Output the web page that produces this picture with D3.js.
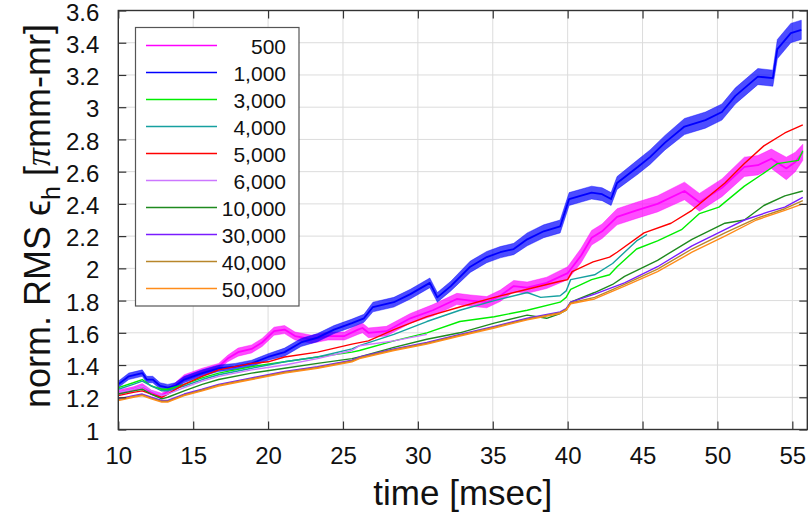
<!DOCTYPE html>
<html>
<head>
<meta charset="utf-8">
<script src="https://cdn.jsdelivr.net/npm/d3@7"></script>
<style>
  html, body { margin: 0; padding: 0; background: #fff; }
  svg { display: block; font-family: "Liberation Sans", Arial, Helvetica, sans-serif; }
</style>
</head>
<body>
<svg id="chart" width="809" height="520"></svg>
<script>
// ---- data: [time (msec), value, noise half-width] ----
const legendLabels = ["500", "1,000", "3,000", "4,000", "5,000", "6,000", "10,000", "30,000", "40,000", "50,000"];
const seriesColors = ["#ff00ff", "#0000ff", "#00ee00", "#16a0a0", "#ff0000", "#cc77ff", "#1f8a1f", "#7a1cff", "#b8862b", "#ff8c1a"];

const s500 = [[10,1.23,.015],[11,1.25,.015],[11.6,1.27,.015],[12.2,1.23,.015],[12.9,1.21,.015],[13.8,1.27,.02],[14.4,1.32,.02],[15.6,1.36,.02],[16.7,1.39,.02],[17.3,1.44,.02],[18,1.48,.025],[18.9,1.50,.025],[19.6,1.54,.025],[20.4,1.61,.025],[21.1,1.62,.025],[21.8,1.58,.025],[22.9,1.56,.025],[24,1.58,.025],[25.1,1.58,.025],[26,1.62,.03],[26.3,1.63,.03],[26.7,1.60,.03],[27.9,1.61,.03],[29.5,1.69,.03],[31,1.74,.035],[32.6,1.81,.035],[33.5,1.80,.035],[34.6,1.79,.035],[35.5,1.83,.035],[36.4,1.89,.035],[37.3,1.88,.035],[38.6,1.91,.035],[40,1.97,.04],[40.9,2.08,.045],[41.6,2.19,.045],[42.3,2.23,.045],[43.3,2.32,.05],[44.6,2.36,.05],[46,2.40,.05],[47.8,2.48,.055],[48.8,2.41,.055],[50.3,2.50,.055],[51.8,2.63,.06],[52.7,2.64,.06],[53.6,2.68,.06],[54.6,2.62,.07],[55.2,2.66,.06],[55.7,2.72,.05]];
const s1000 = [[10,1.28,.02],[10.7,1.33,.02],[11.6,1.35,.02],[11.9,1.31,.02],[12.3,1.31,.02],[12.8,1.27,.02],[13.3,1.26,.02],[13.8,1.27,.02],[14.4,1.31,.02],[15,1.33,.02],[15.6,1.35,.02],[16.7,1.38,.02],[17.8,1.39,.02],[18.9,1.41,.02],[20,1.45,.02],[21.1,1.48,.025],[22.2,1.54,.025],[23.3,1.57,.025],[24.4,1.62,.025],[25.6,1.66,.025],[26.4,1.69,.025],[27,1.76,.03],[28.4,1.79,.03],[29.5,1.84,.03],[30.8,1.91,.03],[31.3,1.82,.03],[32.2,1.89,.03],[33.5,2.01,.035],[34.6,2.07,.035],[35.5,2.10,.035],[36.4,2.12,.035],[37.3,2.18,.04],[38.4,2.23,.04],[39.5,2.26,.04],[40.1,2.43,.04],[41.6,2.47,.04],[42.3,2.46,.04],[42.9,2.43,.04],[43.3,2.53,.04],[44.7,2.63,.045],[45.5,2.69,.045],[46.5,2.78,.045],[47.8,2.88,.05],[49.2,2.92,.05],[50.3,2.97,.05],[51.2,3.07,.05],[52.7,3.19,.05],[53.7,3.18,.05],[54,3.36,.06],[54.9,3.46,.06],[55.6,3.48,.06]];
const s3000 = [[10,1.26],[11,1.29],[11.6,1.31],[12.2,1.27],[12.9,1.25],[13.3,1.25],[14.4,1.28],[15.6,1.32],[16.7,1.35],[18.9,1.39],[21.1,1.42],[23.3,1.45],[25.6,1.48],[26.1,1.49],[28.4,1.55],[30.6,1.60],[32.8,1.67],[35.1,1.70],[37.3,1.74],[39.5,1.79],[39.9,1.82],[40.2,1.87],[41.6,1.93],[42.8,1.96],[43.3,2.01],[44.6,2.12],[46,2.17],[47.6,2.24],[48.8,2.34],[50.1,2.38],[51.8,2.51],[53.4,2.61],[54,2.65],[55.4,2.67],[55.7,2.73]];
const s4000 = [[10,1.25],[11,1.28],[11.6,1.30],[12.2,1.27],[12.9,1.24],[13.3,1.24],[14.4,1.27],[15.6,1.31],[16.7,1.34],[18.9,1.38],[20,1.40],[21.1,1.42],[23.3,1.45],[25.6,1.50],[26.1,1.52],[28.4,1.59],[30.6,1.67],[32.8,1.74],[35.1,1.80],[37.3,1.85],[38.2,1.82],[39.5,1.83],[39.9,1.86],[40.2,1.93],[41.8,1.96],[43,2.03],[44.6,2.17],[45.3,2.21]];
const s5000 = [[10,1.21],[11,1.23],[11.6,1.24],[12.2,1.22],[12.9,1.20],[13.3,1.22],[14.4,1.28],[15.6,1.33],[16.7,1.37],[18.9,1.41],[20,1.42],[21.1,1.45],[23.3,1.48],[25.6,1.53],[26.7,1.55],[28.4,1.62],[30.6,1.70],[32.8,1.76],[35.1,1.82],[37.3,1.87],[39.5,1.92],[40,1.93],[40.3,1.98],[41.7,2.04],[42.8,2.07],[43.3,2.10],[45.1,2.22],[46.9,2.28],[48.3,2.36],[49.2,2.43],[50.5,2.53],[51.8,2.65],[53.1,2.76],[54.5,2.84],[55.7,2.89]];
const s6000 = [[10,1.23],[11,1.25],[11.6,1.27],[12.2,1.24],[12.9,1.21],[13.3,1.22],[14.4,1.26],[15.6,1.30],[16.7,1.33],[18.9,1.37],[21.1,1.40],[23.3,1.44],[25.6,1.49],[26.1,1.52],[28.4,1.55],[30.6,1.59]];
const s10000 = [[10,1.22],[11,1.24],[11.6,1.25],[12.2,1.22],[12.9,1.19],[13.3,1.20],[14.4,1.24],[15.6,1.28],[16.7,1.31],[18.9,1.35],[21.1,1.38],[23.3,1.41],[25.6,1.44],[26.1,1.45],[28.4,1.51],[30.6,1.56],[32.8,1.60],[35.1,1.66],[37.3,1.71],[38.6,1.69],[39.5,1.72],[39.9,1.74],[40.2,1.79],[41.8,1.85],[43,1.90],[43.8,1.95],[46,2.05],[48.3,2.18],[50.5,2.28],[51.8,2.30],[53.1,2.39],[54.5,2.45],[55.7,2.48]];
const s30000 = [[10,1.19],[11,1.21],[11.6,1.22],[12.2,1.20],[12.9,1.18],[13.3,1.18],[14.4,1.22],[15.6,1.25],[16.7,1.28],[18.9,1.32],[21.1,1.36],[23.3,1.39],[25.6,1.43],[26.1,1.45],[28.4,1.50],[30.6,1.54],[32.8,1.59],[35.1,1.64],[37.3,1.69],[39.5,1.73],[39.9,1.75],[40.2,1.79],[41.8,1.84],[43.8,1.91],[46,2.01],[48.3,2.14],[50.5,2.24],[51.8,2.30],[53.4,2.35],[54.5,2.38],[55.7,2.44]];
const s40000 = [[10,1.185],[11,1.205],[11.6,1.215],[12.2,1.195],[12.9,1.175],[13.3,1.175],[14.4,1.215],[15.6,1.245],[16.7,1.275],[18.9,1.315],[21.1,1.355],[23.3,1.385],[25.6,1.425],[26.1,1.445],[28.4,1.495],[30.6,1.535],[32.8,1.585],[35.1,1.635],[37.3,1.685],[39.5,1.725],[39.9,1.745],[40.2,1.785],[41.8,1.82],[43.8,1.90],[46,1.995],[48.3,2.12],[50.5,2.22],[52.6,2.31],[54.5,2.37],[55.7,2.42]];
const s50000 = [[10,1.18],[11,1.20],[11.6,1.21],[12.2,1.19],[12.9,1.17],[13.3,1.17],[14.4,1.21],[15.6,1.24],[16.7,1.27],[18.9,1.31],[21.1,1.35],[23.3,1.38],[25.6,1.42],[26.1,1.44],[28.4,1.49],[30.6,1.53],[32.8,1.58],[35.1,1.63],[37.3,1.68],[39.5,1.72],[39.9,1.74],[40.2,1.78],[41.8,1.81],[43.8,1.89],[46,1.98],[48.3,2.10],[50.5,2.20],[52.6,2.30],[54.5,2.36],[55.7,2.40]];

const allSeries = [s500, s1000, s3000, s4000, s5000, s6000, s10000, s30000, s40000, s50000];

const xTicks = [10, 15, 20, 25, 30, 35, 40, 45, 50, 55];
const yTicks = [1, 1.2, 1.4, 1.6, 1.8, 2, 2.2, 2.4, 2.6, 2.8, 3, 3.2, 3.4, 3.6];
const xDomain = [10, 56];
const yDomain = [1, 3.6];

// ---- layout ----
const L = 118.3, R = 807.3, T = 10.5, B = 429.5;
const svg = d3.select("#chart");
const x = d3.scaleLinear().domain(xDomain).range([L, R]);
const y = d3.scaleLinear().domain(yDomain).range([B, T]);
const defs = svg.append("defs");

// grid
const grid = svg.append("g").attr("stroke", "#dcdcdc").attr("stroke-width", 1);
grid.selectAll(".gx").data(xTicks).join("line")
  .attr("x1", d => x(d)).attr("x2", d => x(d)).attr("y1", T).attr("y2", B);
grid.selectAll(".gy").data(yTicks).join("line")
  .attr("x1", L).attr("x2", R).attr("y1", d => y(d)).attr("y2", d => y(d));

// clip
defs.append("clipPath").attr("id", "clip").append("rect")
  .attr("x", L).attr("y", T).attr("width", R - L).attr("height", B - T);

const plot = svg.append("g").attr("clip-path", "url(#clip)");
const line = d3.line().x(d => x(d[0])).y(d => y(d[1]));
const band = d3.area().x(d => x(d[0])).y0(d => y(d[1] - d[2])).y1(d => y(d[1] + d[2]));

allSeries.forEach((s, i) => {
  const c = seriesColors[i];
  if (s[0].length > 2) {
    plot.append("path").datum(s).attr("d", band)
      .attr("fill", c).attr("fill-opacity", 0.7)
      .attr("stroke", c).attr("stroke-opacity", 0.5).attr("stroke-width", 0.8);
    plot.append("path").datum(s).attr("d", line)
      .attr("fill", "none").attr("stroke", c).attr("stroke-width", 1.8)
      .attr("stroke-linejoin", "round");
  } else {
    plot.append("path").datum(s).attr("d", line)
      .attr("fill", "none").attr("stroke", c).attr("stroke-width", 1.4)
      .attr("stroke-linejoin", "round");
  }
});

// axes (inward ticks on all four sides)
const tickLen = 8;
const fmt = d => String(+d.toFixed(1));
const axB = svg.append("g").attr("transform", `translate(0,${B})`)
  .call(d3.axisBottom(x).tickValues(xTicks).tickSizeInner(-tickLen).tickSizeOuter(0).tickPadding(tickLen + 9).tickFormat(fmt));
const axL = svg.append("g").attr("transform", `translate(${L},0)`)
  .call(d3.axisLeft(y).tickValues(yTicks).tickSizeInner(-tickLen).tickSizeOuter(0).tickPadding(tickLen + 11).tickFormat(fmt));
const axT = svg.append("g").attr("transform", `translate(0,${T})`)
  .call(d3.axisTop(x).tickValues(xTicks).tickSizeInner(-tickLen).tickSizeOuter(0).tickFormat(""));
const axR = svg.append("g").attr("transform", `translate(${R},0)`)
  .call(d3.axisRight(y).tickValues(yTicks).tickSizeInner(-tickLen).tickSizeOuter(0).tickFormat(""));
[axB, axL, axT, axR].forEach(a => {
  a.select(".domain").remove();
  a.selectAll(".tick line").attr("stroke", "#333").attr("stroke-width", 1.2);
  a.selectAll(".tick text").attr("font-size", 24).attr("fill", "#111")
    .attr("font-family", "'Liberation Sans', Arial, sans-serif");
});
axB.selectAll(".tick text").attr("dy", "0.71em");
axL.selectAll(".tick text").attr("dy", "0.4em");

// frame
svg.append("rect").attr("x", L).attr("y", T).attr("width", R - L).attr("height", B - T)
  .attr("fill", "none").attr("stroke", "#333").attr("stroke-width", 1.4);

// axis titles
svg.append("text").attr("x", (L + R) / 2).attr("y", 505).attr("text-anchor", "middle")
  .attr("font-size", 35).attr("fill", "#111").text("time [msec]");

const yt = svg.append("text").attr("transform", "translate(50,216) rotate(-90)")
  .attr("text-anchor", "middle").attr("font-size", 36).attr("fill", "#111");
yt.append("tspan").text("norm. RMS ");
yt.append("tspan").text("\u03F5");
yt.append("tspan").attr("font-size", 25).attr("dy", 10).text("h");
yt.append("tspan").attr("dy", -10).text(" [");
yt.append("tspan").attr("font-style", "italic").attr("font-family", "'Liberation Serif', serif").text("\u03C0");
yt.append("tspan").text("mm-mr]");

// legend
const lg = svg.append("g");
lg.append("rect").attr("x", 135.5).attr("y", 27.5).attr("width", 163.5).attr("height", 278.5)
  .attr("fill", "#fff").attr("stroke", "#555").attr("stroke-width", 1.2);
legendLabels.forEach((lab, i) => {
  const yy = 45.5 + i * 27;
  lg.append("line").attr("x1", 146).attr("x2", 217).attr("y1", yy).attr("y2", yy)
    .attr("stroke", seriesColors[i]).attr("stroke-width", 1.5);
  lg.append("text").attr("x", 286).attr("y", yy + 8).attr("text-anchor", "end")
    .attr("font-size", 21).attr("fill", "#111").text(lab);
});
</script>
</body>
</html>
